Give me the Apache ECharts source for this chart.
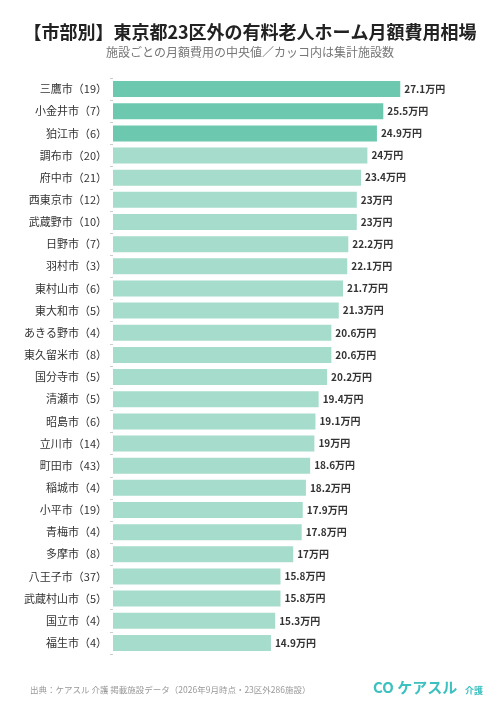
<!DOCTYPE html><html><head><meta charset="utf-8"><script src="https://cdn.jsdelivr.net/npm/echarts@6/dist/echarts.min.js"></script>
<style>body{margin:0;background:#fff}#c{width:500px;height:712px}</style></head><body><div id="c"></div><script>
const cities=["三鷹市","小金井市","狛江市","調布市","府中市","西東京市","武蔵野市","日野市","羽村市","東村山市","東大和市","あきる野市","東久留米市","国分寺市","清瀬市","昭島市","立川市","町田市","稲城市","小平市","青梅市","多摩市","八王子市","武蔵村山市","国立市","福生市"];
const counts=[19,7,6,20,21,12,10,7,3,6,5,4,8,5,5,6,14,43,4,19,4,8,37,5,4,4];
const values=[27.1,25.5,24.9,24,23.4,23,23,22.2,22.1,21.7,21.3,20.6,20.6,20.2,19.4,19.1,19,18.6,18.2,17.9,17.8,17,15.8,15.8,15.3,14.9];
const F='"Noto Sans CJK JP",sans-serif';
const labels=cities.map((c,i)=>c+"（"+counts[i]+"）");
const ch=echarts.init(document.getElementById('c'));
ch.setOption({
 animation:false,
 title:[{text:"【市部別】東京都23区外の有料老人ホーム月額費用相場",left:'center',top:18,textStyle:{fontFamily:F,fontSize:18,fontWeight:'bold',color:'#222'}},
  {text:"施設ごとの月額費用の中央値／カッコ内は集計施設数",left:'center',top:41,textStyle:{fontFamily:F,fontSize:12,fontWeight:'normal',color:'#777'}},
  {text:"出典：ケアスル 介護 掲載施設データ（2026年9月時点・23区外286施設）",left:25,top:681,textStyle:{fontFamily:F,fontSize:8.5,fontWeight:'normal',color:'#999'}},
  {text:"CO ケアスル",left:368,top:675,textStyle:{fontFamily:F,fontSize:15,fontWeight:'bold',color:'#3cc0c0'}},
  {text:"介護",left:460,top:681,textStyle:{fontFamily:F,fontSize:9,fontWeight:'bold',color:'#3cc0c0'}}],
 grid:{left:113,top:78,width:318,bottom:58},
 xAxis:{type:'value',min:0,max:30,show:false},
 yAxis:{type:'category',inverse:true,data:labels,axisLine:{show:false},axisTick:{show:true,length:3,lineStyle:{color:'#ccc'}},
  axisLabel:{fontFamily:F,fontSize:11,color:'#333',margin:6}},
 series:[{type:'bar',data:values.map((v,i)=>({value:v,itemStyle:{color:i<3?'#6cc9b0':'#a6dccb'}})),barWidth:16,
  label:{show:true,position:'right',distance:4,formatter:p=>p.value+'万円',fontFamily:F,fontSize:10,fontWeight:'bold',color:'#333'}}]
});
</script></body></html>
